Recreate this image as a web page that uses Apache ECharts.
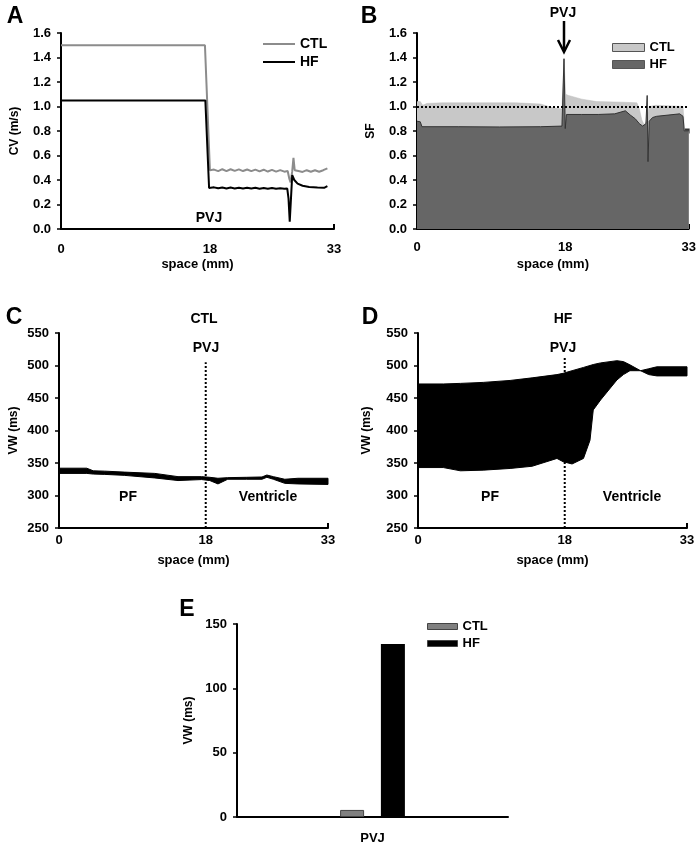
<!DOCTYPE html>
<html>
<head>
<meta charset="utf-8">
<script src="https://cdn.jsdelivr.net/npm/echarts@6/dist/echarts.min.js"></script>
<style>
  html, body { margin: 0; padding: 0; background: #fff; }
  #chart { width: 699px; height: 848px; }
</style>
</head>
<body>
<div id="chart"></div>
<script>
// ---- data ----
// A: conduction velocity (m/s) along the fibre, [space mm, CV]
var cvCtl = [[0, 1.5], [17.4, 1.5], [18.0, 0.48], [18.5, 0.485], [19.0, 0.472], [19.5, 0.488], [20.0, 0.473],
    [20.5, 0.488], [21.0, 0.474], [21.5, 0.487], [22.0, 0.473], [22.5, 0.486], [23.0, 0.472], [23.5, 0.485],
    [24.0, 0.47], [24.5, 0.484], [25.0, 0.469], [25.5, 0.483], [26.0, 0.468], [26.5, 0.481], [27.0, 0.468],
    [27.4, 0.474], [27.6, 0.41], [27.75, 0.38], [27.95, 0.47], [28.1, 0.58], [28.25, 0.48], [28.7, 0.474],
    [29.2, 0.466], [29.7, 0.48], [30.2, 0.467], [30.7, 0.48], [31.2, 0.467], [31.7, 0.48], [32.2, 0.495]];
var cvHf = [[0, 1.05], [17.45, 1.05], [17.9, 0.335], [18.5, 0.34], [19.0, 0.332], [19.5, 0.339], [20.0, 0.331],
    [20.5, 0.338], [21.0, 0.331], [21.5, 0.337], [22.0, 0.33], [22.5, 0.336], [23.0, 0.33], [23.5, 0.336],
    [24.0, 0.329], [24.5, 0.335], [25.0, 0.328], [25.5, 0.334], [26.0, 0.328], [26.5, 0.333], [27.0, 0.328],
    [27.35, 0.33], [27.5, 0.25], [27.65, 0.06], [27.8, 0.25], [27.95, 0.44], [28.2, 0.4], [28.6, 0.37],
    [29.2, 0.353], [30.0, 0.343], [31.0, 0.338], [31.8, 0.336], [32.2, 0.35]];

// B: safety factor
var sfCtl = [[0, 1.04], [0.4, 1.04], [0.7, 1.01], [1.2, 1.025], [3, 1.03], [8, 1.03], [12, 1.03], [15, 1.02],
    [16.5, 0.99], [17.6, 0.98], [17.85, 1.39], [18.05, 1.1], [18.4, 1.09], [20, 1.06], [21.8, 1.04],
    [25, 1.035], [26.7, 1.03], [27.0, 0.98], [27.3, 0.89], [27.6, 0.85], [27.85, 0.88], [28.2, 1.0],
    [29, 1.01], [32.3, 1.0], [32.5, 0.8], [33, 0.8]];
var sfHf = [[0, 0.88], [0.4, 0.875], [0.6, 0.835], [5, 0.835], [10, 0.833], [15, 0.835], [17.6, 0.84],
    [17.85, 1.39], [18.0, 0.82], [18.15, 0.935], [20, 0.935], [22, 0.935], [24, 0.94], [25.3, 0.965],
    [25.9, 0.93], [26.5, 0.9], [27.0, 0.86], [27.4, 0.84], [27.8, 0.86], [27.95, 1.09], [28.05, 0.55],
    [28.2, 0.88], [28.6, 0.91], [29.1, 0.92], [31.9, 0.94], [32.3, 0.92], [32.45, 0.8], [33, 0.8]];
var sfEnd = [[32.8, 0.8]];
var sfThreshold = 1.0;

// C: vulnerable window (ms), CTL, lower and upper edge
var vwCtlX = [0, 3.4, 4.2, 5.6, 8, 11.75, 14.6, 17.5, 18.5, 19.5, 20.7, 23, 24.9, 25.5, 26.3, 27.7, 29.3, 33];
var vwCtlLow = [334, 334, 333, 332.5, 331, 327, 323, 324.5, 323, 317.8, 325, 325, 325, 328, 325, 318.7, 317.8, 317];
var vwCtlHigh = [342, 342, 338, 337.5, 336, 334, 329, 329, 328, 326.5, 327.5, 328, 328.5, 331.5, 329, 325, 326.5, 326.5];

// D: vulnerable window (ms), HF
var vwHfX = [0, 3.1, 5.2, 8, 11.3, 14, 17.05, 17.8, 18.9, 20.3, 21.1, 21.5, 22.4, 24.4, 25.2, 26.0, 27.3, 28.3, 29.3, 33];
var vwHfLow = [343, 343, 338, 339, 341.6, 345, 357, 352, 348.5, 357, 385, 431.6, 447, 477.7, 486, 492, 492, 486, 484, 484];
var vwHfHigh = [471.6, 471.6, 472.5, 474, 477, 481, 486, 488, 492, 497, 500, 501.5, 504, 507.4, 506, 501, 492, 495, 498, 498];

// E: VW width at the PVJ
var vwCats = ['PVJ'];
var vwWidthCtl = [5.5];
var vwWidthHf = [134.5];

var xTicks = [0, 18, 33];
var pvjX = 18;
var pvjTopC = 505, pvjTopD = 512;

// ---- chart ----
var FONT = '"Liberation Sans", Arial, sans-serif';
var lbl = { color: '#000', fontFamily: FONT, fontWeight: 'bold', fontSize: 13 };
var nameLbl = Object.assign({}, lbl, { fontSize: 12 });

function spaceAxis(gi, labelMargin, nameGap) {
    return {
        type: 'value', gridIndex: gi, min: 0, max: 33,
        name: 'space (mm)', nameLocation: 'middle', nameGap: nameGap,
        nameTextStyle: lbl,
        axisLine: { lineStyle: { color: '#000', width: 2 } },
        axisTick: { show: true, inside: true, length: 5, customValues: [33], lineStyle: { color: '#000', width: 2 } },
        axisLabel: Object.assign({ customValues: xTicks, margin: labelMargin }, lbl),
        splitLine: { show: false }
    };
}
function valAxis(gi, min, max, step, name, nameGap, digits) {
    return {
        type: 'value', gridIndex: gi, min: min, max: max, interval: step,
        name: name, nameLocation: 'middle', nameGap: nameGap, nameTextStyle: nameLbl,
        axisLine: { show: true, lineStyle: { color: '#000', width: 2 } },
        axisTick: { show: true, length: 4, lineStyle: { color: '#000', width: 1.5 } },
        axisLabel: Object.assign({ margin: 10, formatter: function (v) { return v.toFixed(digits); } }, lbl),
        splitLine: { show: false }
    };
}
// black band between a lower and an upper edge, drawn through the axis scales
function band(gi, xs, lo, hi) {
    return {
        type: 'custom', xAxisIndex: gi, yAxisIndex: gi, silent: true,
        data: [[xs[0], lo[0]]],
        renderItem: function (params, api) {
            var pts = [];
            for (var i = 0; i < xs.length; i++) pts.push(api.coord([xs[i], hi[i]]));
            for (var j = xs.length - 1; j >= 0; j--) pts.push(api.coord([xs[j], lo[j]]));
            return { type: 'polygon', shape: { points: pts }, style: { fill: '#000', stroke: '#000', lineWidth: 1 } };
        }
    };
}
function pvjLine(gi, top, min) {
    return {
        type: 'line', xAxisIndex: gi, yAxisIndex: gi, silent: true, symbol: 'none', z: 5,
        data: [[pvjX, min], [pvjX, top]],
        lineStyle: { color: '#000', type: [2, 2], width: 2 }
    };
}
function txt(t, x, y, size) {
    return {
        type: 'text', x: x, y: y,
        style: { text: t, font: 'bold ' + (size || 14) + 'px ' + FONT, fill: '#000', align: 'center', verticalAlign: 'middle' }
    };
}
function stripPrefix(n) { return n.split('-')[1]; }

var option = {
    animation: false,
    backgroundColor: '#fff',
    grid: [
        { left: 61, top: 33, width: 273, height: 196 },
        { left: 417, top: 33, width: 272, height: 196 },
        { left: 59, top: 333, width: 269, height: 195 },
        { left: 418, top: 333, width: 269, height: 195 },
        { left: 237, top: 624, width: 271, height: 193 }
    ],
    xAxis: [
        spaceAxis(0, 14, 29),
        spaceAxis(1, 12, 29),
        spaceAxis(2, 6, 26),
        spaceAxis(3, 6, 26),
        {
            type: 'category', gridIndex: 4, data: vwCats,
            axisLine: { lineStyle: { color: '#000', width: 2 } },
            axisTick: { show: false },
            axisLabel: Object.assign({ margin: 15 }, lbl)
        }
    ],
    yAxis: [
        valAxis(0, 0, 1.6, 0.2, 'CV (m/s)', 40, 1),
        valAxis(1, 0, 1.6, 0.2, 'SF', 40, 1),
        valAxis(2, 250, 550, 50, 'VW (ms)', 39, 0),
        valAxis(3, 250, 550, 50, 'VW (ms)', 45, 0),
        valAxis(4, 0, 150, 50, 'VW (ms)', 42, 0)
    ],
    legend: [
        {
            left: 258, top: 32, orient: 'vertical', icon: 'rect', itemWidth: 32, itemHeight: 2, itemGap: 4,
            data: ['A-CTL', 'A-HF'], formatter: stripPrefix,
            textStyle: Object.assign({}, lbl, { fontSize: 14 })
        },
        {
            left: 607, top: 36, orient: 'vertical', icon: 'rect', itemWidth: 32, itemHeight: 8, itemGap: 4,
            data: ['B-CTL', 'B-HF'], formatter: stripPrefix,
            itemStyle: { borderColor: '#555', borderWidth: 1 },
            textStyle: lbl
        },
        {
            left: 422, top: 615, orient: 'vertical', icon: 'rect', itemWidth: 30, itemHeight: 6, itemGap: 4,
            data: ['E-CTL', 'E-HF'], formatter: stripPrefix,
            itemStyle: { borderColor: '#444', borderWidth: 1 },
            textStyle: lbl
        }
    ],
    series: [
        // A
        { name: 'A-CTL', type: 'line', xAxisIndex: 0, yAxisIndex: 0, data: cvCtl, symbol: 'none',
          color: '#8c8c8c', lineStyle: { color: '#8c8c8c', width: 2 } },
        { name: 'A-HF', type: 'line', xAxisIndex: 0, yAxisIndex: 0, data: cvHf, symbol: 'none',
          color: '#000', lineStyle: { color: '#000', width: 2 } },
        // B
        { name: 'B-CTL', type: 'line', xAxisIndex: 1, yAxisIndex: 1, data: sfCtl, symbol: 'none',
          color: '#c8c8c8', lineStyle: { color: '#bdbdbd', width: 0.5 }, areaStyle: { color: '#c8c8c8', opacity: 1 } },
        { name: 'B-HF', type: 'line', xAxisIndex: 1, yAxisIndex: 1, data: sfHf, symbol: 'none',
          color: '#666', lineStyle: { color: '#333', width: 1 }, areaStyle: { color: '#666', opacity: 1 },
          markLine: {
              silent: true, symbol: 'none', label: { show: false },
              lineStyle: { color: '#000', type: [2, 2], width: 2 },
              data: [{ yAxis: sfThreshold }]
          } },
        { name: 'B-end', type: 'scatter', xAxisIndex: 1, yAxisIndex: 1, data: sfEnd,
          symbol: 'rect', symbolSize: 5, itemStyle: { color: '#000' } },
        // C, D bands
        band(2, vwCtlX, vwCtlLow, vwCtlHigh),
        pvjLine(2, pvjTopC, 250),
        band(3, vwHfX, vwHfLow, vwHfHigh),
        pvjLine(3, pvjTopD, 250),
        // E
        { name: 'E-CTL', type: 'bar', xAxisIndex: 4, yAxisIndex: 4, data: vwWidthCtl, barWidth: 24, barGap: '70%',
          itemStyle: { color: '#808080', borderColor: '#444', borderWidth: 1 } },
        { name: 'E-HF', type: 'bar', xAxisIndex: 4, yAxisIndex: 4, data: vwWidthHf, barWidth: 24,
          itemStyle: { color: '#000' } }
    ],
    graphic: [
        txt('A', 15, 17, 23), txt('B', 369, 17, 23), txt('C', 14, 318, 23), txt('D', 370, 318, 23), txt('E', 187, 610, 23),
        txt('PVJ', 209, 218),
        txt('PVJ', 563, 13),
        { type: 'line', shape: { x1: 564, y1: 21, x2: 564, y2: 51 }, style: { stroke: '#000', lineWidth: 2.5 } },
        { type: 'polyline', shape: { points: [[558, 40], [564, 52], [570, 40]] }, style: { stroke: '#000', lineWidth: 2.5, fill: null } },
        txt('CTL', 204, 319), txt('PVJ', 206, 348), txt('PF', 128, 497), txt('Ventricle', 268, 497),
        txt('HF', 563, 319), txt('PVJ', 563, 348), txt('PF', 490, 497), txt('Ventricle', 632, 497)
    ]
};

var chart = echarts.init(document.getElementById('chart'));
chart.setOption(option);
</script>
</body>
</html>
